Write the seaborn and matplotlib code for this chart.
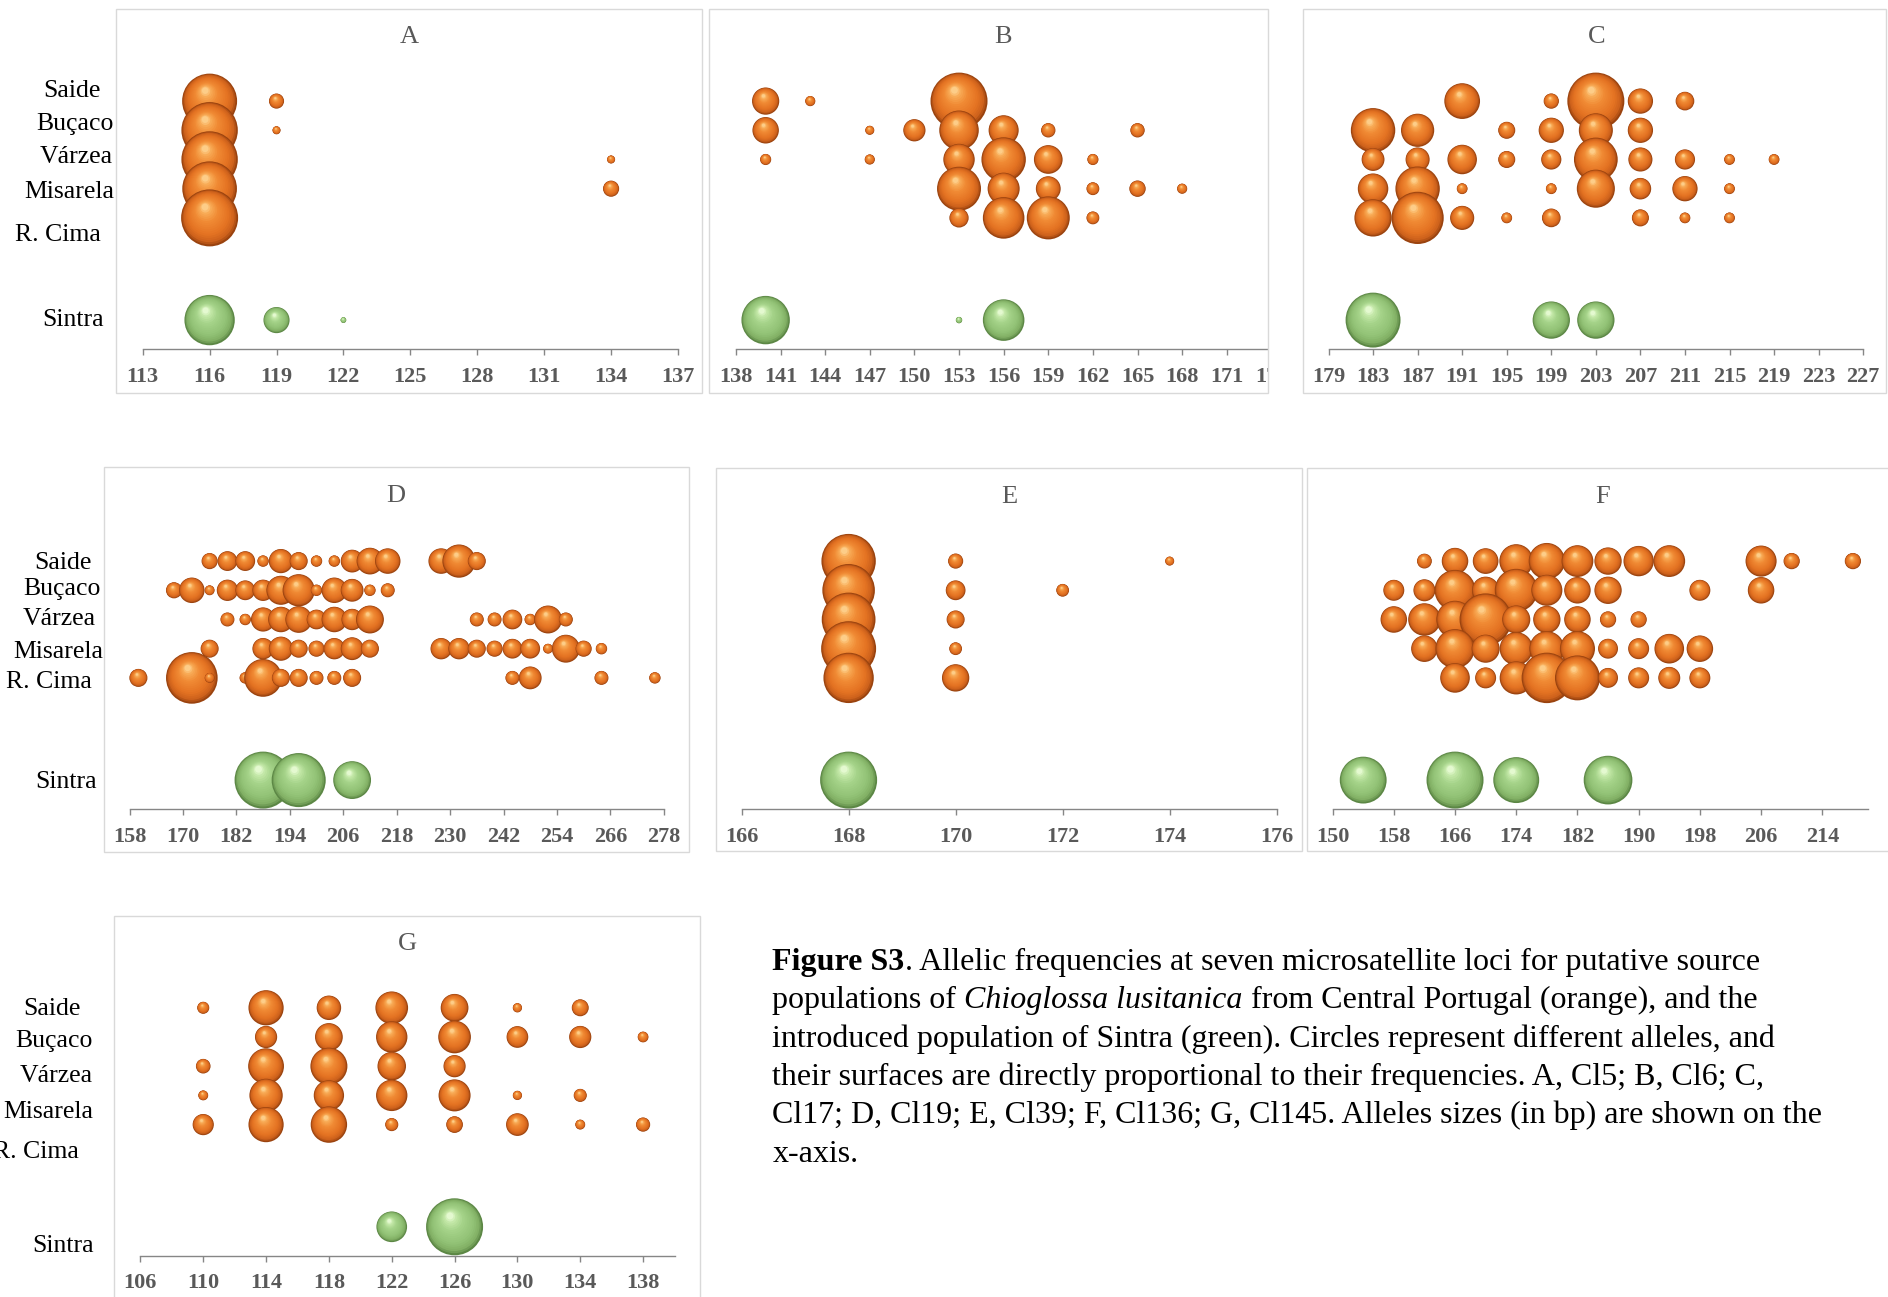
import matplotlib
matplotlib.use("Agg")
import numpy as np
import pandas as pd
import matplotlib.pyplot as plt
import seaborn as sns
from matplotlib.colors import LinearSegmentedColormap, to_hex
from matplotlib.patches import Rectangle

POPULATIONS = ["Saide", "Buçaco", "Várzea", "Misarela", "R. Cima", "Sintra"]

# ---------------- allele frequencies per locus ----------------
# Cl5
CL5_ALLELES = [116, 119, 122, 134]
CL5_SAIDE = [0.93, 0.07, 0, 0]
CL5_BUCACO = [0.98, 0.02, 0, 0]
CL5_VARZEA = [0.98, 0, 0, 0.02]
CL5_MISARELA = [0.92, 0, 0, 0.08]
CL5_RCIMA = [1.00, 0, 0, 0]
CL5_SINTRA = [0.78, 0.21, 0.01, 0]
CL5_TICKS = [113, 116, 119, 122, 125, 128, 131, 134, 137]

# Cl6
CL6_ALLELES = [140, 143, 147, 150, 153, 156, 159, 162, 165, 168]
CL6_SAIDE = [0.18, 0.025, 0, 0, 0.79, 0, 0, 0, 0, 0]
CL6_BUCACO = [0.17, 0, 0.02, 0.12, 0.38, 0.22, 0.05, 0, 0.05, 0]
CL6_VARZEA = [0.03, 0, 0.025, 0, 0.24, 0.48, 0.20, 0.03, 0, 0]
CL6_MISARELA = [0, 0, 0, 0, 0.47, 0.25, 0.15, 0.04, 0.065, 0.025]
CL6_RCIMA = [0, 0, 0, 0, 0.09, 0.42, 0.45, 0.04, 0, 0]
CL6_SINTRA = [0.57, 0, 0, 0, 0.01, 0.42, 0, 0, 0, 0]
CL6_TICKS = [138, 141, 144, 147, 150, 153, 156, 159, 162, 165, 168, 171, 174]

# Cl17
CL17_ALLELES = [183, 187, 191, 195, 199, 203, 207, 211, 215, 219]
CL17_SAIDE = [0, 0, 0.22, 0, 0.04, 0.56, 0.11, 0.06, 0, 0]
CL17_BUCACO = [0.34, 0.19, 0, 0.05, 0.11, 0.20, 0.11, 0, 0, 0]
CL17_VARZEA = [0.09, 0.10, 0.15, 0.05, 0.07, 0.33, 0.10, 0.07, 0.02, 0.02]
CL17_MISARELA = [0.16, 0.34, 0.02, 0, 0.02, 0.25, 0.08, 0.11, 0.02, 0]
CL17_RCIMA = [0.24, 0.47, 0.10, 0.02, 0.06, 0, 0.05, 0.02, 0.02, 0]
CL17_SINTRA = [0.52, 0, 0, 0, 0.24, 0.24, 0, 0, 0, 0]
CL17_TICKS = [179, 183, 187, 191, 195, 199, 203, 207, 211, 215, 219, 223, 227]

# Cl19
CL19_ALLELES = [160, 168, 172, 176, 180, 184, 188, 192, 196, 200, 204, 208, 212,
                216, 228, 232, 236, 240, 244, 248, 252, 256, 260, 264, 276]
CL19_SAIDE = [0, 0, 0, 0.04, 0.06, 0.06, 0.02, 0.09, 0.05, 0.02, 0.02, 0.08, 0.11,
              0.10, 0.10, 0.17, 0.05, 0, 0, 0, 0, 0, 0, 0, 0]
CL19_BUCACO = [0, 0.04, 0.10, 0.015, 0.07, 0.06, 0.07, 0.13, 0.16, 0.02, 0.10, 0.08, 0.02,
               0.03, 0, 0, 0, 0, 0, 0, 0, 0, 0, 0, 0]
CL19_VARZEA = [0, 0, 0, 0, 0.03, 0.02, 0.09, 0.10, 0.11, 0.06, 0.10, 0.07, 0.12,
               0, 0, 0, 0.03, 0.03, 0.06, 0.02, 0.12, 0.03, 0, 0, 0]
CL19_MISARELA = [0, 0, 0, 0.05, 0, 0, 0.07, 0.09, 0.05, 0.04, 0.07, 0.08, 0.05,
                 0, 0.07, 0.07, 0.05, 0.04, 0.06, 0.06, 0.015, 0.12, 0.04, 0.02, 0]
CL19_RCIMA = [0.05, 0.02, 0.41, 0.015, 0, 0.02, 0.22, 0.05, 0.05, 0.03, 0.03, 0.05, 0,
              0, 0, 0, 0, 0, 0.03, 0.08, 0, 0, 0, 0.03, 0.02]
CL19_SINTRA = [0, 0, 0, 0, 0, 0, 0.50, 0, 0.45, 0, 0, 0.22, 0,
               0, 0, 0, 0, 0, 0, 0, 0, 0, 0, 0, 0]
CL19_TICKS = [158, 170, 182, 194, 206, 218, 230, 242, 254, 266, 278]

# Cl39
CL39_ALLELES = [168, 170, 172, 174]
CL39_SAIDE = [0.91, 0.07, 0, 0.025]
CL39_BUCACO = [0.85, 0.12, 0.05, 0]
CL39_VARZEA = [0.89, 0.10, 0, 0]
CL39_MISARELA = [0.93, 0.05, 0, 0]
CL39_RCIMA = [0.78, 0.23, 0, 0]
CL39_SINTRA = [1.00, 0, 0, 0]
CL39_TICKS = [166, 168, 170, 172, 174, 176]

# Cl136
CL136_ALLELES = [154, 158, 162, 166, 170, 174, 178, 182, 186, 190, 194, 198, 206, 210, 218]
CL136_SAIDE = [0, 0, 0.025, 0.08, 0.075, 0.13, 0.15, 0.115, 0.085, 0.105, 0.115, 0, 0.11, 0.03, 0.03]
CL136_BUCACO = [0, 0.05, 0.055, 0.19, 0.085, 0.21, 0.11, 0.08, 0.085, 0, 0, 0.05, 0.08, 0, 0]
CL136_VARZEA = [0, 0.08, 0.12, 0.16, 0.31, 0.09, 0.085, 0.08, 0.03, 0.03, 0, 0, 0, 0, 0]
CL136_MISARELA = [0, 0, 0.08, 0.175, 0.09, 0.125, 0.14, 0.14, 0.045, 0.05, 0.10, 0.08, 0, 0, 0]
CL136_RCIMA = [0, 0, 0, 0.10, 0.05, 0.125, 0.29, 0.23, 0.045, 0.05, 0.055, 0.05, 0, 0, 0]
CL136_SINTRA = [0.25, 0, 0, 0.37, 0, 0.24, 0, 0, 0.27, 0, 0, 0, 0, 0, 0]
CL136_TICKS = [150, 158, 166, 174, 182, 190, 198, 206, 214]

# Cl145
CL145_ALLELES = [110, 114, 118, 122, 126, 130, 134, 138]
CL145_SAIDE = [0.034, 0.29, 0.14, 0.25, 0.18, 0.02, 0.067, 0]
CL145_BUCACO = [0, 0.115, 0.18, 0.23, 0.25, 0.11, 0.115, 0.027]
CL145_VARZEA = [0.05, 0.30, 0.32, 0.19, 0.115, 0, 0, 0]
CL145_MISARELA = [0.023, 0.26, 0.215, 0.23, 0.24, 0.02, 0.04, 0]
CL145_RCIMA = [0.105, 0.29, 0.31, 0.04, 0.065, 0.12, 0.023, 0.047]
CL145_SINTRA = [0, 0, 0, 0.22, 0.76, 0, 0, 0]
CL145_TICKS = [106, 110, 114, 118, 122, 126, 130, 134, 138]

CAPTION = [
    [("Figure S3", "bold"), (". Allelic frequencies at seven microsatellite loci for putative source", "normal")],
    [("populations of", "normal"), (None, "space"), ("Chioglossa lusitanica", "italic"), (None, "space"),
     ("from Central Portugal (orange), and the", "normal")],
    [("introduced population of Sintra (green). Circles represent different alleles, and", "normal")],
    [("their surfaces are directly proportional to their frequencies. A, Cl5; B, Cl6; C,", "normal")],
    [("Cl17; D, Cl19; E, Cl39; F, Cl136; G, Cl145. Alleles sizes (in bp) are shown on the", "normal")],
    [("x-axis.", "normal")],
]

# ---------------- styling / layout (pixel units, origin top-left) ----------------
sns.set_style("white")
plt.rcParams["font.family"] = ["Liberation Serif", "DejaVu Serif"]

DPI = 100
W, H = 1888, 1297
fig = plt.figure(figsize=(W / DPI, H / DPI), dpi=DPI)
fig.patch.set_facecolor("white")


def fx(px):
    return px / W


def fy(py):
    return 1 - py / H


ROW_Y = [8.5, 7.5, 6.5, 5.5, 4.5, 1.0]
Y_TOP = 11.0
UNIT_PX = 29.2
BUBBLE_MAX_PX = 57.0
N_LAYERS = 18
S_REF = (BUBBLE_MAX_PX * 72 / DPI) ** 2 * 1.2
AXIS_GREY = "#868686"
TEXT_GREY = "#595959"
FRAME_GREY = "#D9D9D9"

ORANGE = LinearSegmentedColormap.from_list("sphere_orange", [
    (0.0, "#9A430F"), (0.1, "#CC601B"), (0.3, "#E47322"),
    (0.65, "#F08A34"), (0.88, "#F8AA55"), (1.0, "#FDCD88")])
GREEN = LinearSegmentedColormap.from_list("sphere_green", [
    (0.0, "#5C8745"), (0.1, "#80AE63"), (0.3, "#92C276"),
    (0.65, "#A5D389"), (0.88, "#C3E8A8"), (1.0, "#E4F9D0")])
LAYER_KEYS = [f"L{i:02d}" for i in range(N_LAYERS)]
PAL_ORANGE = {k: to_hex(ORANGE(i / (N_LAYERS - 1))) for i, k in enumerate(LAYER_KEYS)}
PAL_GREEN = {k: to_hex(GREEN(i / (N_LAYERS - 1))) for i, k in enumerate(LAYER_KEYS)}

LABELS_A = [(100.5, 96.7), (113.2, 130.0), (113.2, 162.7), (114.1, 198.3), (100.5, 240.7), (104.2, 326.0)]
LABELS_D = [(91.5, 569.3), (100.4, 595.0), (96.0, 625.0), (103.6, 658.3), (91.5, 688.3), (97.3, 788.3)]
LABELS_G = [(80.6, 1015.0), (92.8, 1046.7), (92.8, 1081.7), (92.8, 1118.3), (79.3, 1158.3), (93.7, 1251.7)]

PANELS = [
    dict(title="A", alleles=CL5_ALLELES,
         freqs=[CL5_SAIDE, CL5_BUCACO, CL5_VARZEA, CL5_MISARELA, CL5_RCIMA, CL5_SINTRA],
         ticks=CL5_TICKS, xlim=(113, 137), axes=(142.7, 678.0, 349.3),
         frame=(116.4, 9.3, 702.0, 392.7), title_xy=(409.0, 42.7), labels=LABELS_A),
    dict(title="B", alleles=CL6_ALLELES,
         freqs=[CL6_SAIDE, CL6_BUCACO, CL6_VARZEA, CL6_MISARELA, CL6_RCIMA, CL6_SINTRA],
         ticks=CL6_TICKS, xlim=(138, 174), axes=(735.9, 1271.4, 349.3),
         frame=(709.2, 9.3, 1267.9, 392.7), title_xy=(1003.4, 42.7), labels=None),
    dict(title="C", alleles=CL17_ALLELES,
         freqs=[CL17_SAIDE, CL17_BUCACO, CL17_VARZEA, CL17_MISARELA, CL17_RCIMA, CL17_SINTRA],
         ticks=CL17_TICKS, xlim=(179, 227), axes=(1328.5, 1863.2, 349.3),
         frame=(1302.6, 9.3, 1885.6, 392.7), title_xy=(1596.3, 43.3), labels=None),
    dict(title="D", alleles=CL19_ALLELES,
         freqs=[CL19_SAIDE, CL19_BUCACO, CL19_VARZEA, CL19_MISARELA, CL19_RCIMA, CL19_SINTRA],
         ticks=CL19_TICKS, xlim=(158, 278), axes=(129.5, 663.8, 809.3),
         frame=(103.6, 467.3, 688.7, 851.7), title_xy=(396.0, 501.7), labels=LABELS_D),
    dict(title="E", alleles=CL39_ALLELES,
         freqs=[CL39_SAIDE, CL39_BUCACO, CL39_VARZEA, CL39_MISARELA, CL39_RCIMA, CL39_SINTRA],
         ticks=CL39_TICKS, xlim=(166, 176), axes=(741.6, 1276.7, 809.3),
         frame=(715.6, 468.3, 1302.3, 850.7), title_xy=(1009.0, 502.7), labels=None),
    dict(title="F", alleles=CL136_ALLELES,
         freqs=[CL136_SAIDE, CL136_BUCACO, CL136_VARZEA, CL136_MISARELA, CL136_RCIMA, CL136_SINTRA],
         ticks=CL136_TICKS, xlim=(150, 220), axes=(1332.6, 1868.2, 809.3),
         frame=(1306.7, 468.3, 1895.0, 851.0), title_xy=(1603.0, 502.7), labels=None),
    dict(title="G", alleles=CL145_ALLELES,
         freqs=[CL145_SAIDE, CL145_BUCACO, CL145_VARZEA, CL145_MISARELA, CL145_RCIMA, CL145_SINTRA],
         ticks=CL145_TICKS, xlim=(106, 140), axes=(140.4, 674.5, 1256.0),
         frame=(114.1, 916.0, 699.7, 1305.0), title_xy=(407.6, 950.0), labels=LABELS_G),
]


def draw_spheres(ax, alleles, freqs, row, fmax, px_per_x, palette):
    """Shaded 3-D looking bubbles: stacked discs shrinking towards a highlight."""
    recs = []
    for allele, f in zip(alleles, freqs):
        if f <= 0:
            continue
        r = 0.5 * BUBBLE_MAX_PX * np.sqrt(f / fmax)
        for i, key in enumerate(LAYER_KEYS):
            t = i / (N_LAYERS - 1)
            rad = r * (1 - 0.88 * t)
            recs.append({"x": allele - 0.16 * r * t / px_per_x,
                         "y": row + 0.38 * r * t / UNIT_PX,
                         "s": (2 * rad * 72 / DPI) ** 2,
                         "layer": key})
    if not recs:
        return
    df = pd.DataFrame(recs)
    sns.scatterplot(data=df, x="x", y="y", hue="layer", hue_order=LAYER_KEYS,
                    palette=palette, size="s", sizes=(0, S_REF), size_norm=(0, S_REF),
                    legend=False, linewidth=0, edgecolor="none", ax=ax, clip_on=False)


for p in PANELS:
    left, right, axis_y = p["axes"]
    ax = fig.add_axes([fx(left), fy(axis_y), (right - left) / W, Y_TOP * UNIT_PX / H])
    ax.set_facecolor("none")
    fmax = max(max(fr) for fr in p["freqs"])
    px_per_x = (right - left) / (p["xlim"][1] - p["xlim"][0])
    for k, fr in enumerate(p["freqs"]):
        pal = PAL_GREEN if POPULATIONS[k] == "Sintra" else PAL_ORANGE
        draw_spheres(ax, p["alleles"], fr, ROW_Y[k], fmax, px_per_x, pal)
    ax.set_xlim(*p["xlim"])
    ax.set_ylim(0, Y_TOP)
    ax.set_xlabel("")
    ax.set_ylabel("")
    ax.set_yticks([])
    ax.set_xticks(p["ticks"], labels=[str(t) for t in p["ticks"]],
                  fontweight="bold", fontsize=16, color=TEXT_GREY)
    ax.tick_params(axis="x", which="major", bottom=True, direction="out",
                   length=4.5, width=1.0, color=AXIS_GREY, pad=8.0)
    for side in ("top", "left", "right"):
        ax.spines[side].set_visible(False)
    ax.spines["bottom"].set_color(AXIS_GREY)
    ax.spines["bottom"].set_linewidth(1.0)

    fig.text(fx(p["title_xy"][0]), fy(p["title_xy"][1]), p["title"], ha="center",
             va="baseline", fontsize=19, color=TEXT_GREY, zorder=4)
    if p["labels"]:
        for name, (lx, ly) in zip(POPULATIONS, p["labels"]):
            fig.text(fx(lx), fy(ly), name, ha="right", va="baseline",
                     fontsize=18.5, color="black", zorder=4)

# the Cl6 chart is cropped on its right side
fig.patches.append(Rectangle((fx(1268.6), fy(400)), (1301.5 - 1268.6) / W, 400 / H,
                             transform=fig.transFigure, facecolor="white",
                             edgecolor="none", zorder=2))
for p in PANELS:
    l, t, r, b = p["frame"]
    fig.patches.append(Rectangle((fx(l), fy(b)), (r - l) / W, (b - t) / H,
                                 transform=fig.transFigure, facecolor="none",
                                 edgecolor=FRAME_GREY, linewidth=1.0, zorder=3))

# caption with mixed bold / italic runs
renderer = fig.canvas.get_renderer()
CAP_SIZE = 23
probe_a = fig.text(0, 0, "a a", fontsize=CAP_SIZE)
probe_b = fig.text(0, 0, "aa", fontsize=CAP_SIZE)
space_w = probe_a.get_window_extent(renderer).width - probe_b.get_window_extent(renderer).width
probe_a.remove()
probe_b.remove()

CAP_X, CAP_BASE, CAP_STEP = 772.3, 970.0, 38.3
for li, line in enumerate(CAPTION):
    x = CAP_X
    yb = CAP_BASE + li * CAP_STEP
    for txt, style in line:
        if style == "space":
            x += space_w
            continue
        kw = {}
        if style == "bold":
            kw["fontweight"] = "bold"
        if style == "italic":
            kw["fontstyle"] = "italic"
        tt = fig.text(fx(x), fy(yb), txt, ha="left", va="baseline",
                      fontsize=CAP_SIZE, color="black", **kw)
        x += tt.get_window_extent(renderer).width

fig.savefig("out.png", dpi=DPI, facecolor="white")
